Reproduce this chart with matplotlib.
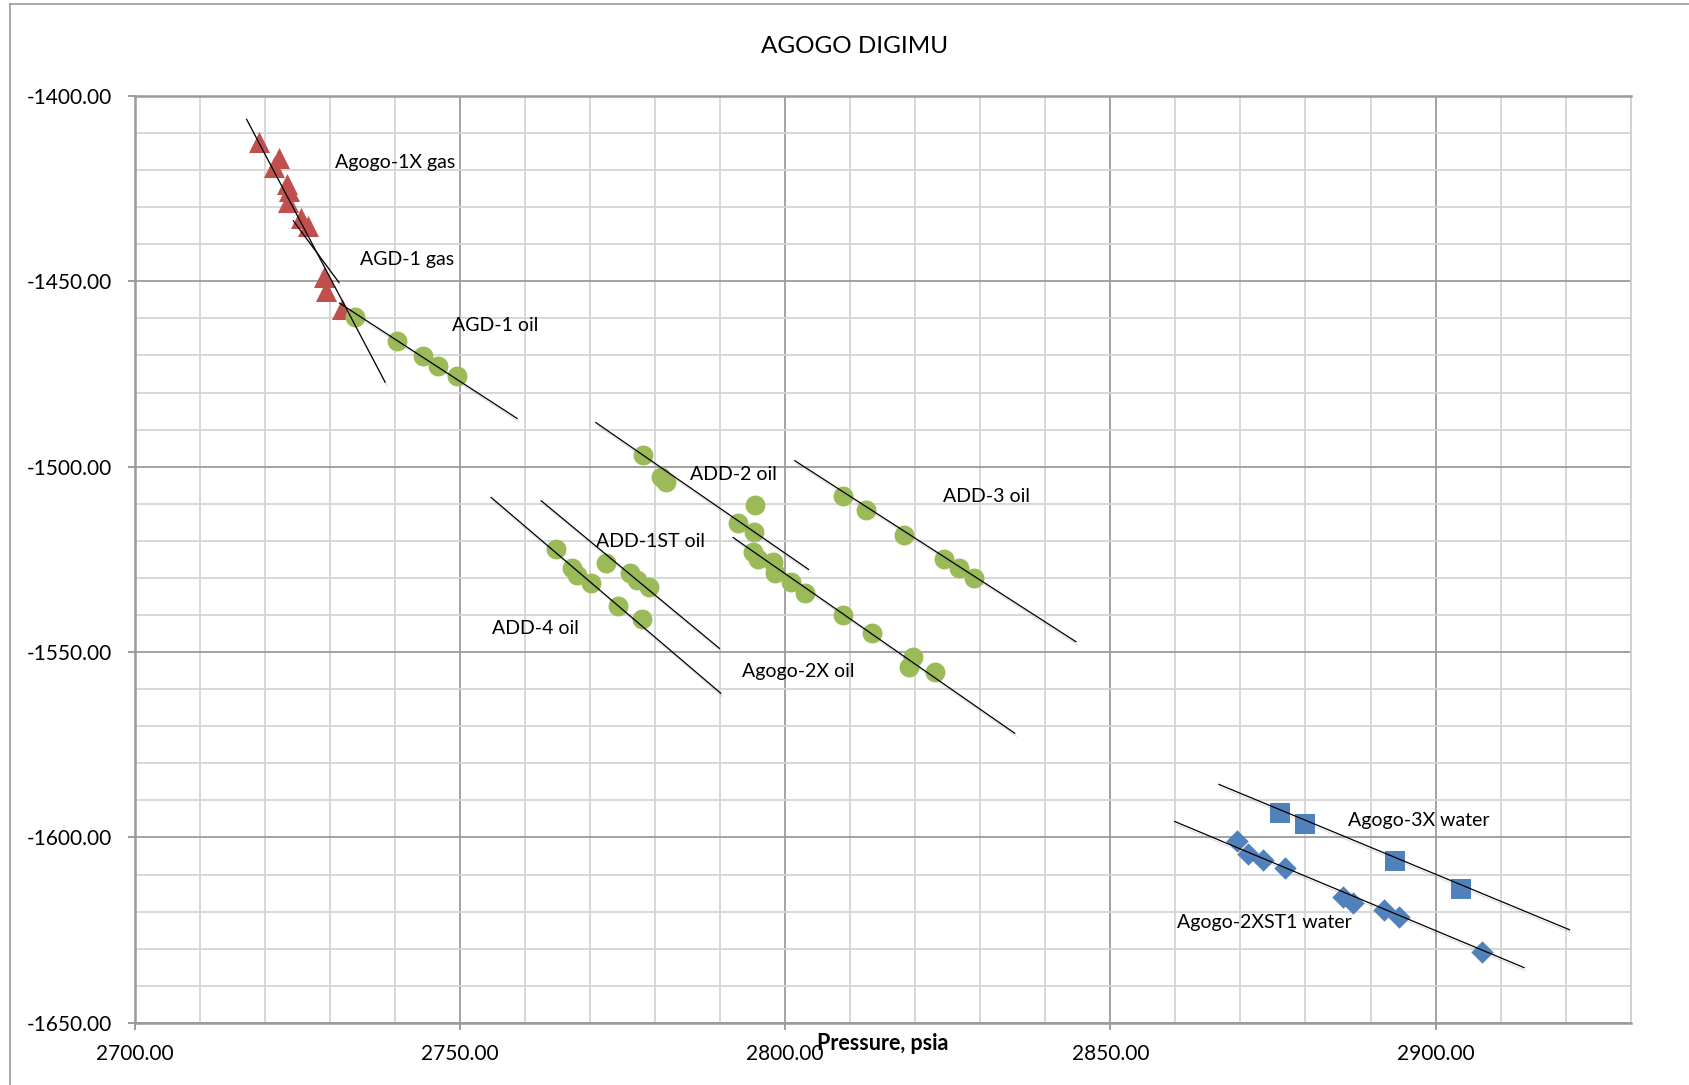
import matplotlib
matplotlib.use("Agg")
import matplotlib.pyplot as plt
import matplotlib.patheffects as pe
from matplotlib.ticker import MultipleLocator, FuncFormatter
from matplotlib.lines import Line2D

plt.rcParams['font.family'] = ['Lato', 'DejaVu Sans']

# ---- pressure (psia) vs depth data per well / fluid ----
agogo1x_gas_p = [2719.1, 2722.2, 2721.4, 2723.4, 2723.7, 2723.6, 2725.6, 2726.6]
agogo1x_gas_d = [-1412.3, -1416.8, -1419.2, -1423.8, -1425.6, -1428.5, -1432.8, -1435.0]

agd1_gas_p = [2729.1, 2729.4, 2731.8]
agd1_gas_d = [-1448.9, -1452.7, -1457.4]

agd1_oil_p = [2733.8, 2740.4, 2744.3, 2746.7, 2749.6]
agd1_oil_d = [-1459.7, -1466.1, -1470.2, -1472.9, -1475.6]

add2_oil_p = [2778.1, 2780.9, 2781.7, 2795.3, 2792.7, 2795.2]
add2_oil_d = [-1496.8, -1502.7, -1504.0, -1510.3, -1515.3, -1517.5]

agogo2x_oil_p = [2795.0, 2795.8, 2798.2, 2798.4, 2800.9, 2803.0, 2808.9, 2813.3, 2819.6, 2819.1, 2823.0]
agogo2x_oil_d = [-1523.0, -1524.8, -1525.6, -1528.6, -1531.0, -1534.1, -1540.0, -1544.8, -1551.4, -1553.9, -1555.3]

add3_oil_p = [2808.9, 2812.5, 2818.3, 2824.4, 2826.7, 2829.0]
add3_oil_d = [-1507.9, -1511.7, -1518.4, -1525.0, -1527.4, -1529.9]

add1st_oil_p = [2772.5, 2776.2, 2777.3, 2779.1]
add1st_oil_d = [-1525.9, -1528.6, -1530.6, -1532.4]

add4_oil_p = [2764.8, 2767.3, 2768.0, 2770.2, 2774.3, 2778.0]
add4_oil_d = [-1522.3, -1527.4, -1529.2, -1531.4, -1537.6, -1541.2]

agogo3x_water_p = [2876.1, 2879.9, 2893.7, 2903.9]
agogo3x_water_d = [-1593.5, -1596.4, -1606.3, -1614.0]

agogo2xst1_water_p = [2869.4, 2871.1, 2873.5, 2876.9, 2885.8, 2887.3, 2892.1, 2894.4, 2907.1]
agogo2xst1_water_d = [-1600.9, -1604.5, -1606.1, -1608.3, -1616.0, -1617.7, -1619.7, -1621.4, -1631.0]

# ---- gradient lines (start / end pressure and depth) ----
trend_gas1_p = [2717.2, 2738.5]
trend_gas1_d = [-1406.3, -1477.2]
trend_gas2_p = [2724.4, 2731.4]
trend_gas2_d = [-1433.7, -1450.3]
trend_agd1_oil_p = [2731.5, 2758.8]
trend_agd1_oil_d = [-1455.9, -1487.0]
trend_add2_p = [2770.9, 2803.6]
trend_add2_d = [-1488.1, -1527.7]
trend_agogo2x_p = [2792.0, 2835.3]
trend_agogo2x_d = [-1519.1, -1571.9]
trend_add3_p = [2801.5, 2844.7]
trend_add3_d = [-1498.4, -1547.2]
trend_add1st_p = [2762.5, 2789.9]
trend_add1st_d = [-1509.2, -1549.0]
trend_add4_p = [2754.8, 2790.1]
trend_add4_d = [-1508.3, -1561.1]
trend_3x_p = [2866.7, 2920.6]
trend_3x_d = [-1585.7, -1624.9]
trend_2xst1_p = [2859.9, 2913.6]
trend_2xst1_d = [-1595.7, -1635.1]

# ---- annotations (text, pressure, depth) ----
label_text = ["Agogo-1X gas", "AGD-1 gas", "AGD-1 oil", "ADD-2 oil", "ADD-3 oil",
              "ADD-1ST oil", "ADD-4 oil", "Agogo-2X oil", "Agogo-3X water",
              "Agogo-2XST1 water"]
label_p = [2730.8, 2734.6, 2748.8, 2785.4, 2824.2, 2771.0, 2755.0, 2793.4, 2886.6, 2860.3]
label_d = [-1418.0, -1444.2, -1461.9, -1502.0, -1508.1, -1520.1, -1543.6, -1555.2, -1595.3, -1623.0]

RED = "#C0504D"
GREEN = "#9BBB59"
BLUE = "#4F81BD"

fig = plt.figure(figsize=(16.9, 10.85), dpi=100)
ax = fig.add_axes([0.0797, 0.0573, 0.9649 - 0.0797, 0.9116 - 0.0573])

ax.set_xlim(2700, 2930)
ax.set_ylim(-1650, -1400)

# grid: light minor every 10, darker major every 50
ax.xaxis.set_major_locator(MultipleLocator(50))
ax.xaxis.set_minor_locator(MultipleLocator(10))
ax.yaxis.set_major_locator(MultipleLocator(50))
ax.yaxis.set_minor_locator(MultipleLocator(10))
ax.grid(which='minor', color='#D4D4D4', linewidth=1.3, zorder=0)
ax.grid(which='major', color='#9C9C9C', linewidth=1.3, zorder=0)
ax.set_axisbelow(True)

fmt = FuncFormatter(lambda v, p: f"{v:.2f}")
ax.xaxis.set_major_formatter(fmt)
ax.yaxis.set_major_formatter(fmt)
ax.tick_params(which='major', direction='out', length=5, width=1.2, color='#8C8C8C',
               labelsize=15, labelcolor='black')
ax.tick_params(axis='x', which='major', pad=10)
ax.tick_params(axis='y', which='major', pad=11)
ax.tick_params(which='minor', length=0)

for side in ['left', 'bottom', 'top']:
    ax.spines[side].set_color('#9A9A9A')
    ax.spines[side].set_linewidth(1.8)
ax.spines['right'].set_color('#CFCFCF')
ax.spines['right'].set_linewidth(1.3)

shadow = [pe.SimpleLineShadow(offset=(1.2, -2.2), shadow_color='#888888', alpha=0.25),
          pe.Normal()]

trends = [
    (trend_gas1_p, trend_gas1_d), (trend_gas2_p, trend_gas2_d),
    (trend_agd1_oil_p, trend_agd1_oil_d), (trend_add2_p, trend_add2_d),
    (trend_agogo2x_p, trend_agogo2x_d), (trend_add3_p, trend_add3_d),
    (trend_add1st_p, trend_add1st_d), (trend_add4_p, trend_add4_d),
    (trend_3x_p, trend_3x_d), (trend_2xst1_p, trend_2xst1_d),
]
for tp, td in trends:
    ax.plot(tp, td, color='black', linewidth=0.9, zorder=4, path_effects=shadow)

ms_circle = 205
ax.scatter(agogo1x_gas_p, agogo1x_gas_d, marker='^', s=230, color=RED, linewidths=0, zorder=3)
ax.scatter(agd1_gas_p, agd1_gas_d, marker='^', s=230, color=RED, linewidths=0, zorder=3)
for p, d in [(agd1_oil_p, agd1_oil_d), (add2_oil_p, add2_oil_d),
             (agogo2x_oil_p, agogo2x_oil_d), (add3_oil_p, add3_oil_d),
             (add1st_oil_p, add1st_oil_d), (add4_oil_p, add4_oil_d)]:
    ax.scatter(p, d, marker='o', s=ms_circle, color=GREEN, linewidths=0, zorder=3)
ax.scatter(agogo3x_water_p, agogo3x_water_d, marker='s', s=200, color=BLUE, linewidths=0, zorder=3)
ax.scatter(agogo2xst1_water_p, agogo2xst1_water_d, marker='D', s=130, color=BLUE, linewidths=0, zorder=3)

for t, p, d in zip(label_text, label_p, label_d):
    ax.text(p, d, t, fontsize=14, ha='left', va='center', color='black', zorder=5)

fig.text(0.5057, 0.9573, "AGOGO DIGIMU", fontsize=17.5, ha='center', va='center')
fig.text(0.5223, 0.0384, "Pressure, psia", fontsize=15.5, fontweight='bold',
         ha='center', va='center')

# chart-area frame
fig.add_artist(Line2D([0.006, 1.0], [0.9965, 0.9965], transform=fig.transFigure,
                      color='#9A9A9A', linewidth=1.2))
fig.add_artist(Line2D([0.006, 0.006], [0.0, 0.9965], transform=fig.transFigure,
                      color='#9A9A9A', linewidth=1.2))

fig.savefig("out.png", dpi=100)
